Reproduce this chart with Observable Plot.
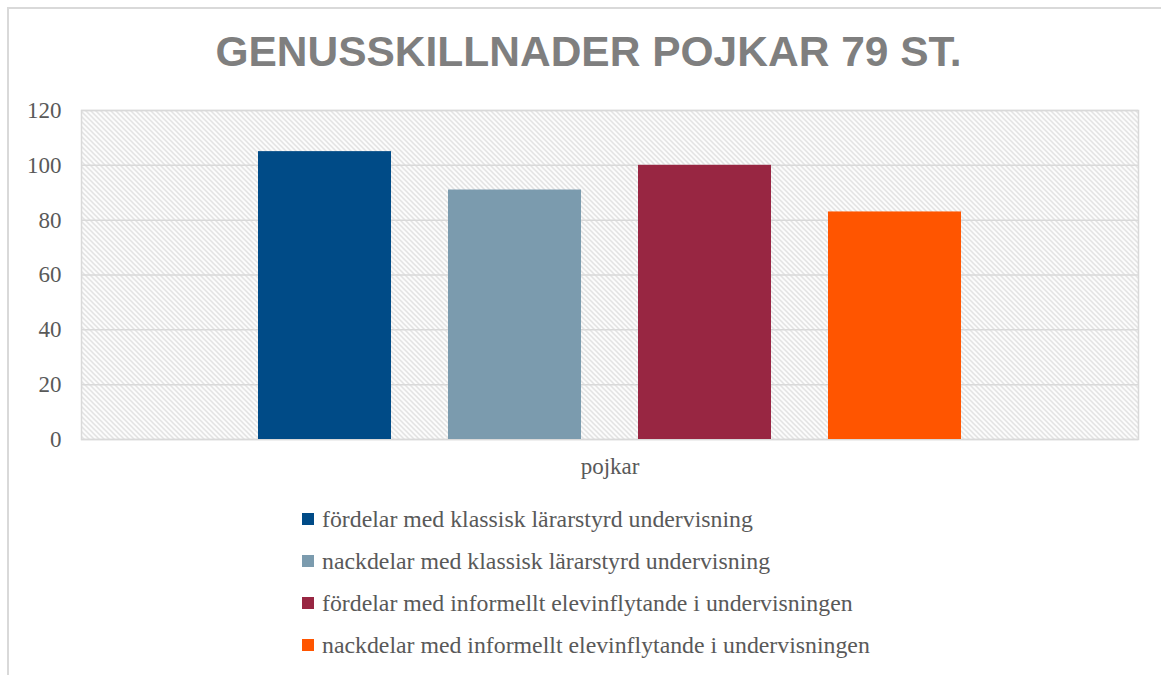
<!DOCTYPE html>
<html>
<head>
<meta charset="utf-8">
<script src="https://cdn.jsdelivr.net/npm/d3@7"></script>
<script src="https://cdn.jsdelivr.net/npm/@observablehq/plot@0.6"></script>
<style>
  body { margin: 0; background: #fff; }
  #wrap { position: relative; width: 1161px; height: 675px; overflow: hidden; }
  #border { position: absolute; left: 7px; top: 7px; width: 1170px; height: 680px; border: 2px solid #d9d9d9; box-sizing: border-box; }
  #title { position: absolute; left: 8px; width: 1161px; top: 28px; text-align: center; font-family: "Liberation Sans", Arial, sans-serif; font-weight: bold; font-size: 42.5px; color: #7f7f7f; }
  #chart { position: absolute; left: 0; top: 90px; }
  #legend { position: absolute; left: 302px; top: 498px; font-family: "Liberation Serif", "Times New Roman", serif; font-size: 23.8px; color: #595959; }
  .item { height: 42px; display: flex; align-items: center; }
  .sw { width: 12px; height: 12px; margin-right: 8px; flex: none; }
</style>
</head>
<body>
<div id="wrap">
  <div id="border"></div>
  <div id="title">GENUSSKILLNADER POJKAR 79 ST.</div>
  <div id="chart"></div>
  <div id="legend"></div>
</div>
<script>
const category = "pojkar";
const series = [
  "fördelar med klassisk lärarstyrd undervisning",
  "nackdelar med klassisk lärarstyrd undervisning",
  "fördelar med informellt elevinflytande i undervisningen",
  "nackdelar med informellt elevinflytande i undervisningen"
];
const values = [105, 91, 100, 83];
const colors = ["#004b87", "#7b9bae", "#982642", "#ff5500"];
const yTicks = [0, 20, 40, 60, 80, 100, 120];

const data = series.map((s, i) => ({category, series: s, value: values[i]}));

const chart = Plot.plot({
  width: 1161,
  height: 400,
  marginTop: 20,
  marginLeft: 81,
  marginRight: 23,
  marginBottom: 51,
  style: {fontFamily: "Liberation Serif", fontSize: "23px", color: "#595959", background: "transparent"},
  fx: {domain: [category], padding: 0, label: null, axis: "bottom", tickSize: 0, tickPadding: 18},
  x: {domain: series, paddingInner: 0.3, paddingOuter: 0.92, axis: null},
  y: {domain: [0, 120], ticks: yTicks, label: null, tickSize: 0, tickPadding: 20},
  color: {domain: series, range: colors},
  marks: [
    Plot.frame({fill: "url(#hatch)", stroke: "#d9d9d9", strokeWidth: 1.5}),
    Plot.gridY(yTicks, {stroke: "#d9d9d9", strokeOpacity: 1, strokeWidth: 1.5}),
    Plot.barY(data, {fx: "category", x: "series", y: "value", fill: "series"})
  ]
});

const svg = d3.select(chart);
const defs = svg.insert("defs", ":first-child");
const pat = defs.append("pattern").attr("id", "hatch").attr("patternUnits", "userSpaceOnUse")
  .attr("width", 5).attr("height", 5);
pat.append("rect").attr("width", 5).attr("height", 5).attr("fill", "#ffffff");
pat.append("path").attr("d", "M0,0 L5,5 M-1,4 L1,6 M4,-1 L6,1")
  .attr("stroke", "#d4d4d4").attr("stroke-width", 1.2);

document.getElementById("chart").appendChild(chart);

const legend = document.getElementById("legend");
series.forEach((s, i) => {
  const item = document.createElement("div");
  item.className = "item";
  const sw = document.createElement("span");
  sw.className = "sw";
  sw.style.background = colors[i];
  const t = document.createElement("span");
  t.textContent = s;
  item.appendChild(sw);
  item.appendChild(t);
  legend.appendChild(item);
});
</script>
</body>
</html>
